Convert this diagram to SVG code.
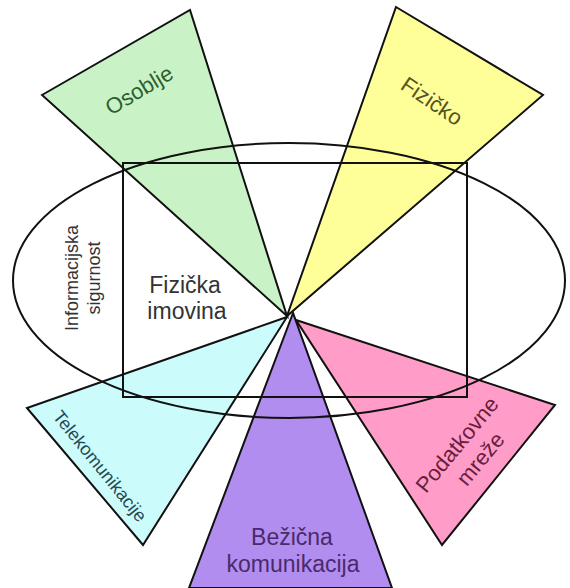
<svg xmlns="http://www.w3.org/2000/svg" width="570" height="588" viewBox="0 0 570 588">
<style>
.tri{stroke:#111;stroke-width:2;stroke-linejoin:miter}
.out{fill:none;stroke:#111;stroke-width:2}
text{font-family:"Liberation Sans",Arial,sans-serif;text-anchor:middle}
</style>
<rect width="570" height="588" fill="#fff"/>
<g id="osoblje">
<polygon class="tri" points="42,95 190,10 287,316" fill="#c9f3c6"/>
<text transform="translate(139,90) rotate(-31)" dy="0.35em" font-size="22" fill="#2f5e30">Osoblje</text>
</g>
<g id="fizicko">
<polygon class="tri" points="396,7 543,95 287,316" fill="#ffff99"/>
<text transform="translate(432,101) rotate(34)" dy="0.35em" font-size="22" fill="#55551f">Fizičko</text>
</g>
<g id="telekomunikacije">
<polygon class="tri" points="27,408 143,545 287,317" fill="#ccfbfb"/>
<text transform="translate(100,466) rotate(51)" dy="0.35em" font-size="18" fill="#1f4a55">Telekomunikacije</text>
</g>
<g id="podatkovne-mreze">
<polygon class="tri" points="296,320 555,405 442,545" fill="#ff9dc8"/>
<text transform="translate(466,452) rotate(-50.5)" font-size="22" fill="#6a1e40"><tspan x="0" y="-4">Podatkovne</tspan><tspan x="4" y="23">mreže</tspan></text>
</g>
<g id="bezicna-komunikacija">
<polygon class="tri" points="293,313 189,588 392,588" fill="#b28df0"/>
<text font-size="23" fill="#4a2a6a"><tspan x="292" y="545">Bežična</tspan><tspan x="293" y="572">komunikacija</tspan></text>
</g>
<g id="informacijska-sigurnost">
<ellipse class="out" cx="289" cy="280.5" rx="276" ry="137.5"/>
<text transform="translate(84,278) rotate(-90)" font-size="18" fill="#333"><tspan x="0" y="-6">Informacijska</tspan><tspan x="0" y="16">sigurnost</tspan></text>
</g>
<g id="fizicka-imovina">
<rect class="out" x="123" y="163" width="344" height="234"/>
<text font-size="23" fill="#333"><tspan x="185" y="293">Fizička</tspan><tspan x="187" y="319">imovina</tspan></text>
</g>
<g id="connectors"/>
</svg>
